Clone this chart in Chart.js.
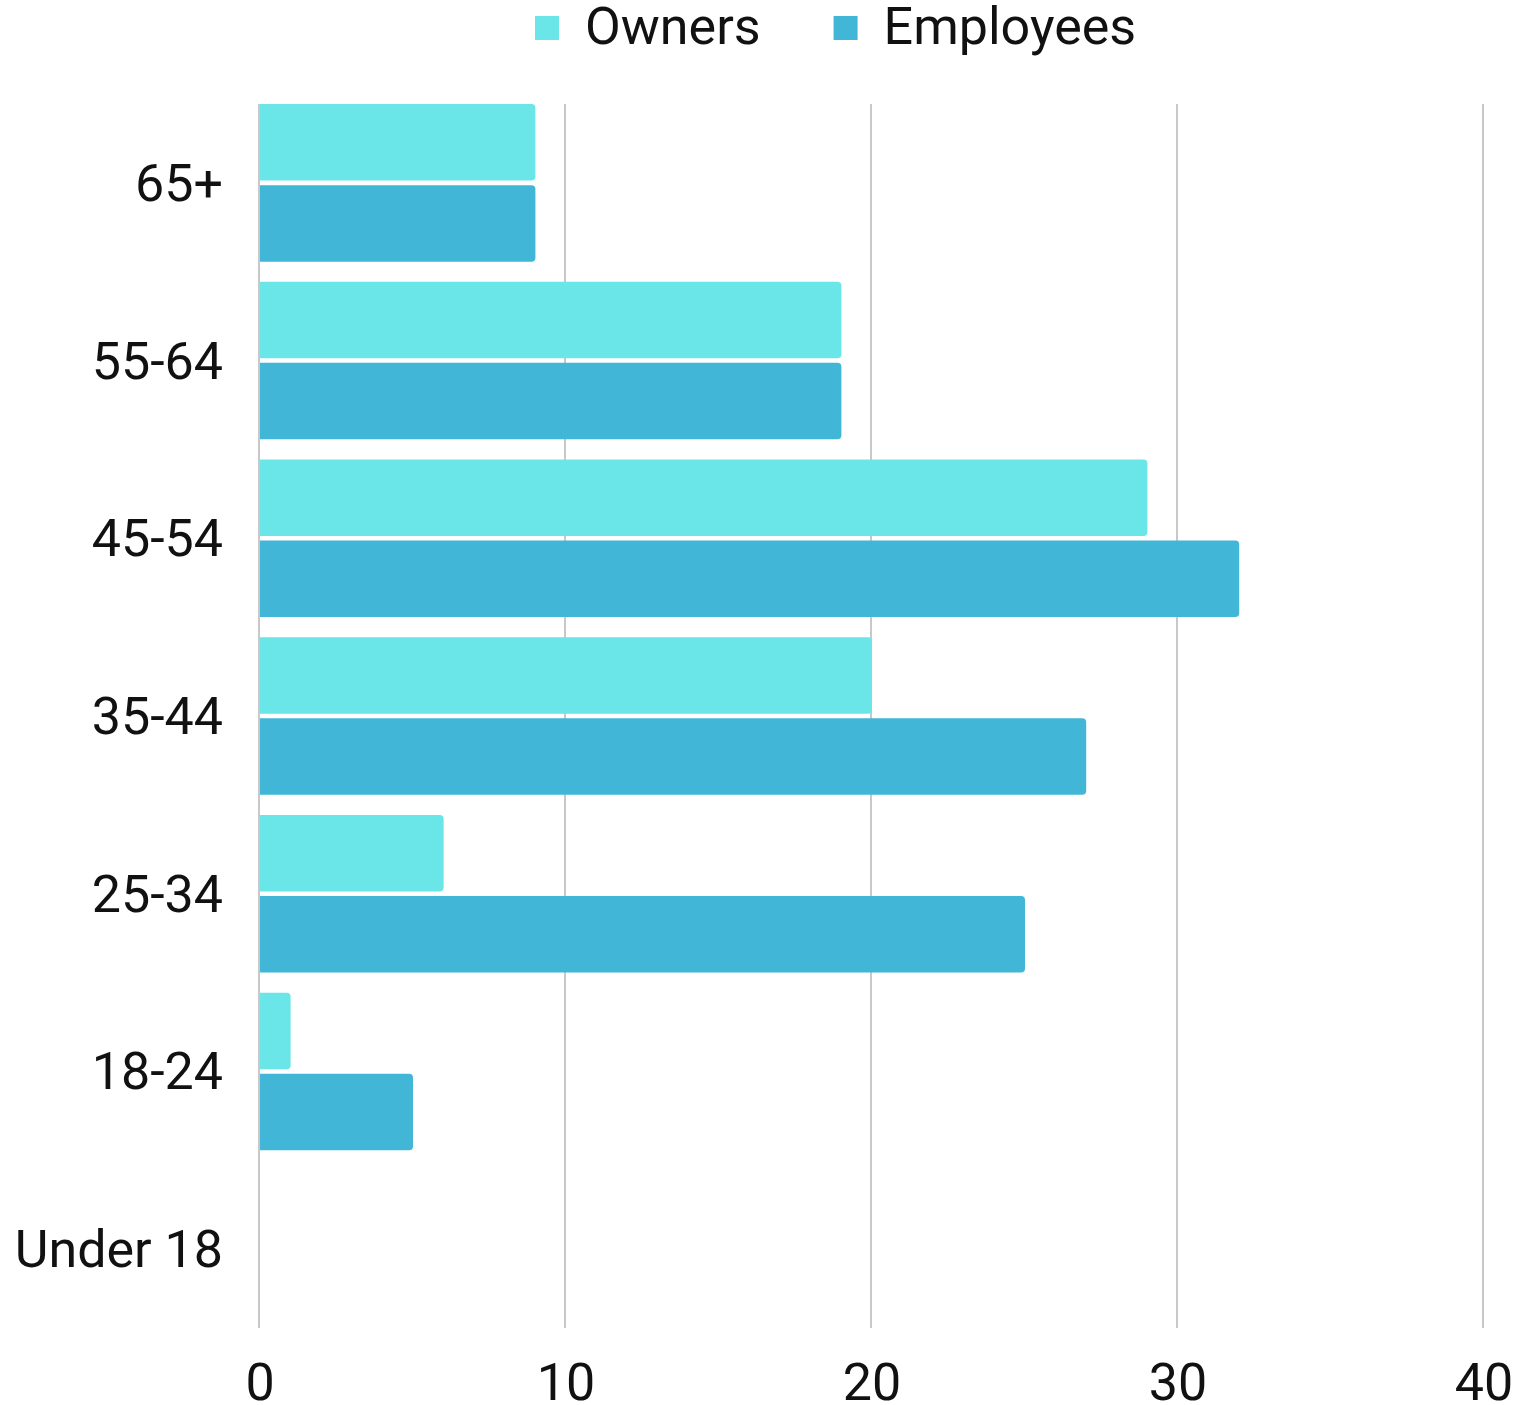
<!DOCTYPE html>
<html>
<head>
<meta charset="utf-8">
<script src="https://cdn.jsdelivr.net/npm/chart.js@4/dist/chart.umd.min.js"></script>
<style>
  html, body { margin: 0; padding: 0; background: #fff; }
  #wrap { width: 1525px; height: 1405px; }
</style>
</head>
<body>
<div id="wrap"><canvas id="grafico_idades"></canvas></div>
<script>
const faixas = ['65+', '55-64', '45-54', '35-44', '25-34', '18-24', 'Under 18'];
const donos = [9, 19, 29, 20, 6, 1, 0];
const funcionarios = [9, 19, 32, 27, 25, 5, 0];
const ticksX = [0, 10, 20, 30, 40];

const corDonos = '#6ae5e8';
const corFuncionarios = '#42b6d6';
const fonte = 'Roboto, "Noto Sans", sans-serif';

// grade vertical um pouco mais curta que a área do gráfico
const gradePlugin = {
    id: 'gradeCurta',
    beforeDatasetsDraw(chart) {
        const { ctx, chartArea, scales } = chart;
        ctx.save();
        ctx.strokeStyle = '#c8c8c8';
        ctx.lineWidth = 2;
        ticksX.forEach(v => {
            const x = Math.round(scales.x.getPixelForValue(v)) - 1;
            ctx.beginPath();
            ctx.moveTo(x, chartArea.top + 10);
            ctx.lineTo(x, chartArea.bottom - 10);
            ctx.stroke();
        });
        ctx.restore();
    }
};

// legenda desenhada à mão para controlar o espaçamento
const legendaPlugin = {
    id: 'legendaTopo',
    afterDraw(chart) {
        const ctx = chart.ctx;
        ctx.save();
        ctx.font = '52px ' + fonte;
        ctx.textBaseline = 'middle';
        let x = 535;
        chart.data.datasets.forEach(ds => {
            ctx.fillStyle = ds.backgroundColor;
            ctx.fillRect(x, 16, 24, 24);
            ctx.fillStyle = '#111';
            ctx.fillText(ds.label, x + 50, 31);
            x += 50 + ctx.measureText(ds.label).width + 73;
        });
        ctx.restore();
    }
};

const canvas_grafico = document.getElementById('grafico_idades');
const ctx = canvas_grafico.getContext('2d');

new Chart(ctx, {
    type: 'bar',
    data: {
        labels: faixas,
        datasets: [{
            label: 'Owners',
            data: donos,
            backgroundColor: corDonos,
            borderRadius: { topRight: 4, bottomRight: 4 },
            borderSkipped: 'start',
            categoryPercentage: 0.912,
            barPercentage: 0.944,
        }, {
            label: 'Employees',
            data: funcionarios,
            backgroundColor: corFuncionarios,
            borderRadius: { topRight: 4, bottomRight: 4 },
            borderSkipped: 'start',
            categoryPercentage: 0.912,
            barPercentage: 0.944,
        }],
    },
    options: {
        indexAxis: 'y',
        responsive: true,
        maintainAspectRatio: false,
        animation: false,
        layout: {
            padding: { top: 94, right: 41, left: 0, bottom: 0 },
        },
        plugins: {
            legend: { display: false },
            tooltip: { enabled: false },
        },
        scales: {
            x: {
                min: 0,
                max: 40,
                afterBuildTicks: axis => {
                    axis.ticks = ticksX.map(v => ({ value: v }));
                },
                grid: { display: false },
                border: { display: false },
                ticks: {
                    color: '#111',
                    font: { family: fonte, size: 52 },
                    padding: 10,
                    maxRotation: 0,
                },
                afterFit: axis => { axis.height = 67; },
            },
            y: {
                grid: { display: false },
                border: { display: false },
                ticks: {
                    color: '#111',
                    font: { family: fonte, size: 52 },
                    padding: 29,
                    labelOffset: 5,
                },
                afterFit: axis => { axis.width = 260; },
            },
        },
    },
    plugins: [gradePlugin, legendaPlugin],
});
</script>
</body>
</html>
